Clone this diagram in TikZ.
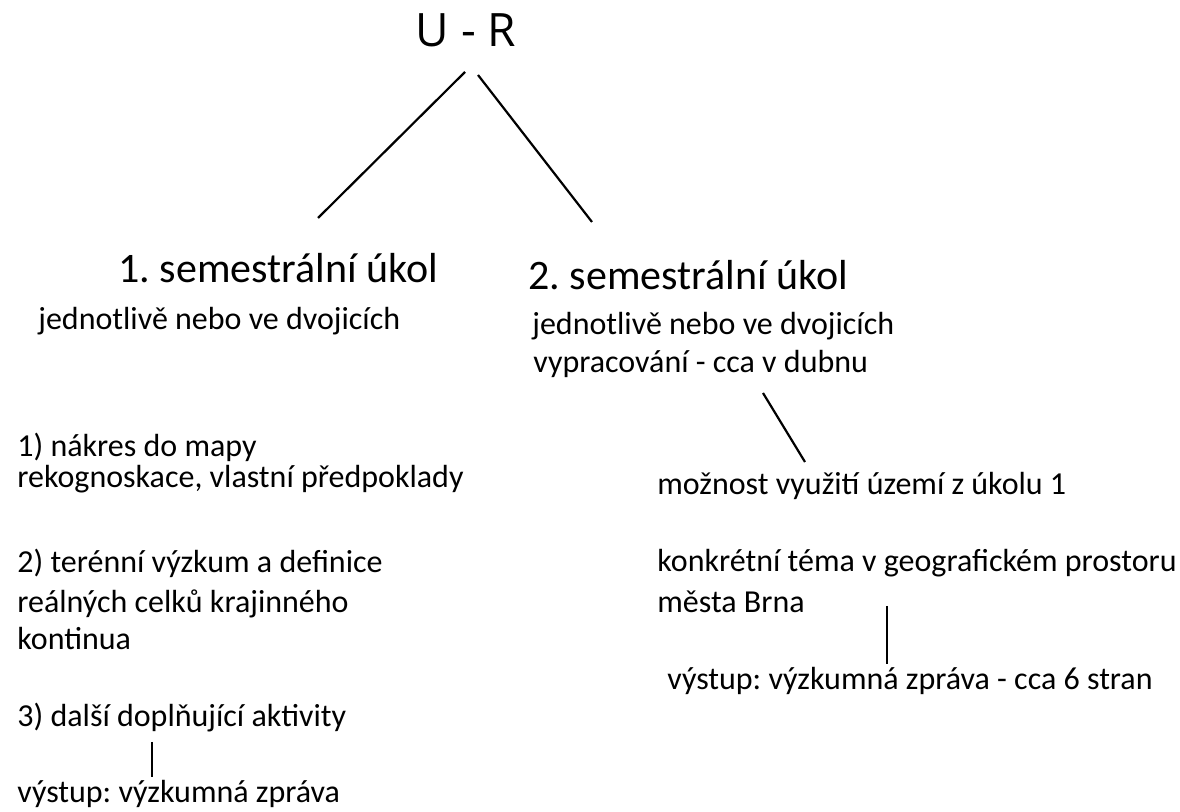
\documentclass[tikz,border=0pt]{standalone}
\usepackage{fontspec}
\setmainfont{Carlito}
\newfontfamily\rootfont{Open Sans}
\frenchspacing

\begin{document}
\begin{tikzpicture}[x=0.5pt,y=-0.5pt,
	txt/.style={anchor=base west,inner sep=0pt,font=\fontsize{16}{19}\selectfont},
	head/.style={anchor=base west,inner sep=0pt,font=\fontsize{21}{25}\selectfont},
	link/.style={line width=1.1pt}]
			\useasboundingbox (0,0) rectangle (1180,812);

			% root
			\node[anchor=base,inner sep=0pt,font=\rootfont\fontsize{23}{27}\selectfont] (ur) at (466,47) {U - R};

			% task headings
			\node[head] (task1) at (118,283) {1. semestrální úkol};
			\node[head] (task2) at (528,290) {2. semestrální úkol};

			% task 1
			\node[txt] (pair1) at (38,330) {jednotlivě nebo ve dvojicích};
			\node[txt] (step1) at (17,457) {1) nákres do mapy};
			\node[txt] (step1b) at (17,488) {rekognoskace, vlastní předpoklady};
			\node[txt] (step2) at (17,573) {2) terénní výzkum a definice};
			\node[txt] (step2b) at (17,613) {reálných celků krajinného};
			\node[txt] (step2c) at (17,650) {kontinua};
			\node[txt] (step3) at (17,727) {3) další doplňující aktivity};
			\node[txt] (out1) at (17,803) {výstup: výzkumná zpráva};

			% task 2
			\node[txt] (pair2) at (532,335) {jednotlivě nebo ve dvojicích};
			\node[txt] (when2) at (533,373) {vypracování - cca v dubnu};
			\node[txt] (area2) at (657,495) {možnost využití území z úkolu 1};
			\node[txt] (topic2) at (657,572) {konkrétní téma v geografickém prostoru};
			\node[txt] (topic2b) at (657,613) {města Brna};
			\node[txt] (out2) at (667,690) {výstup: výzkumná zpráva - cca 6 stran};

			% line ends
			\coordinate (ur1) at (465,72);
			\coordinate (ur2) at (478,75);
			\coordinate (t1) at (318,218);
			\coordinate (t2) at (592,222);
			\coordinate (w2) at (763,393);
			\coordinate (a2) at (805,462);
			\coordinate (b2) at (887,606);
			\coordinate (o2) at (887,664);
			\coordinate (s3) at (152,742);
			\coordinate (o1) at (152,777);

			% lines
			\draw[link] (ur1) -- (t1);
			\draw[link] (ur2) -- (t2);
			\draw[link] (w2) -- (a2);
			\draw[link,line width=1.3pt] (b2) -- (o2);
			\draw[link,line width=1.3pt] (s3) -- (o1);
\end{tikzpicture}
\end{document}
